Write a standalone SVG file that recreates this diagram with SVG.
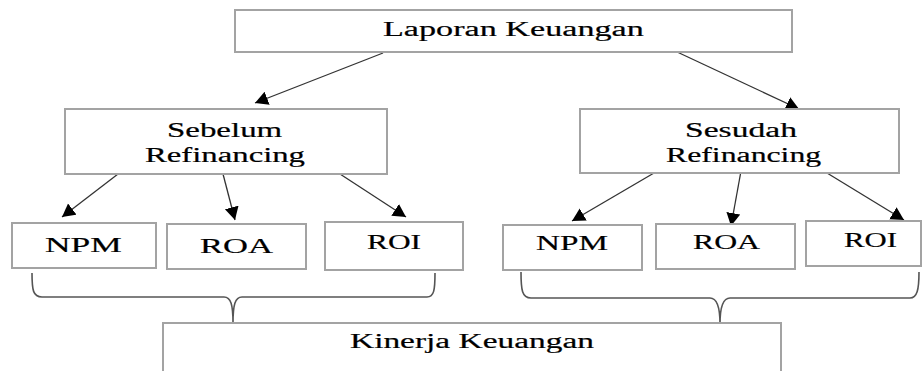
<svg xmlns="http://www.w3.org/2000/svg" width="924" height="371" viewBox="0 0 924 371">
<style>
.box{fill:#fff;stroke:#a3a3a3;stroke-width:2}
.t{font-family:"Liberation Serif","Times New Roman",serif;fill:#000;font-size:20.5px;stroke:#000;stroke-width:0.2}
.tb{font-family:"Liberation Serif","Times New Roman",serif;fill:#000;font-size:22px;stroke:#000;stroke-width:0.2}
.con{stroke:#333;stroke-width:1.3;fill:none}
.brace{stroke:#555;stroke-width:1.6;fill:none}
</style>
<defs>
<marker id="arr" markerUnits="userSpaceOnUse" markerWidth="14" markerHeight="15" refX="13" refY="7" orient="auto">
<path d="M0,0 L13,7 L0,14 z" fill="#000"/>
</marker>
</defs>
<rect width="924" height="371" fill="#fff"/>
<g id="connectors">
<line class="con" x1="383" y1="53" x2="255" y2="103" marker-end="url(#arr)"/>
<line class="con" x1="675" y1="51" x2="799" y2="109" marker-end="url(#arr)"/>
<line class="con" x1="118" y1="174" x2="62" y2="217" marker-end="url(#arr)"/>
<line class="con" x1="223" y1="174" x2="235" y2="220" marker-end="url(#arr)"/>
<line class="con" x1="340" y1="174" x2="406" y2="217" marker-end="url(#arr)"/>
<line class="con" x1="654" y1="173" x2="572" y2="221" marker-end="url(#arr)"/>
<line class="con" x1="741" y1="171" x2="731" y2="226" marker-end="url(#arr)"/>
<line class="con" x1="827" y1="173" x2="904" y2="220" marker-end="url(#arr)"/>
<path class="brace" d="M32,273 C32,290 33,297 42,297 L224,297 C231,297 233,305 233,323 C233,305 235,297 242,297 L427,297 C434,297 435,290 435,273"/>
<path class="brace" d="M521,272 C521,290 522,298 531,298 L710,298 C717,298 720,306 720,324 C720,306 723,298 730,298 L910,298 C917,298 919,290 919,272"/>
</g>
<g id="laporan">
<rect class="box" x="235" y="10" width="557" height="42"/>
<text class="t" transform="translate(383,36) scale(1.6,1)" textLength="163" lengthAdjust="spacingAndGlyphs">Laporan Keuangan</text>
</g>
<g id="sebelum">
<rect class="box" x="65" y="109" width="322" height="65"/>
<text class="t" transform="translate(167,137) scale(1.6,1)" textLength="72" lengthAdjust="spacingAndGlyphs">Sebelum</text>
<text class="t" transform="translate(145,162) scale(1.6,1)" textLength="100" lengthAdjust="spacingAndGlyphs">Refinancing</text>
</g>
<g id="sesudah">
<rect class="box" x="580" y="109" width="319" height="64"/>
<text class="t" transform="translate(685,137) scale(1.6,1)" textLength="70" lengthAdjust="spacingAndGlyphs">Sesudah</text>
<text class="t" transform="translate(666,162) scale(1.6,1)" textLength="97" lengthAdjust="spacingAndGlyphs">Refinancing</text>
</g>
<g id="npm1">
<rect class="box" x="12" y="223" width="144" height="45"/>
<text class="tb" transform="translate(45,252) scale(1.6,1)" textLength="48" lengthAdjust="spacingAndGlyphs">NPM</text>
</g>
<g id="roa1">
<rect class="box" x="167" y="224" width="139" height="45"/>
<text class="tb" transform="translate(200,253) scale(1.6,1)" textLength="45.6" lengthAdjust="spacingAndGlyphs">ROA</text>
</g>
<g id="roi1">
<rect class="box" x="325" y="222" width="138" height="48"/>
<text class="tb" transform="translate(367,249) scale(1.6,1)" textLength="33.8" lengthAdjust="spacingAndGlyphs">ROI</text>
</g>
<g id="npm2">
<rect class="box" x="503" y="225" width="139" height="45"/>
<text class="tb" transform="translate(536,250) scale(1.6,1)" textLength="45" lengthAdjust="spacingAndGlyphs">NPM</text>
</g>
<g id="roa2">
<rect class="box" x="656" y="224" width="139" height="45"/>
<text class="tb" transform="translate(693,249) scale(1.6,1)" textLength="41.9" lengthAdjust="spacingAndGlyphs">ROA</text>
</g>
<g id="roi2">
<rect class="box" x="806" y="221" width="115" height="45"/>
<text class="tb" transform="translate(844,247) scale(1.6,1)" textLength="33.1" lengthAdjust="spacingAndGlyphs">ROI</text>
</g>
<g id="kinerja">
<rect class="box" x="163" y="323" width="618" height="60"/>
<text class="t" transform="translate(350,348) scale(1.6,1)" textLength="152.5" lengthAdjust="spacingAndGlyphs">Kinerja Keuangan</text>
</g>
</svg>
